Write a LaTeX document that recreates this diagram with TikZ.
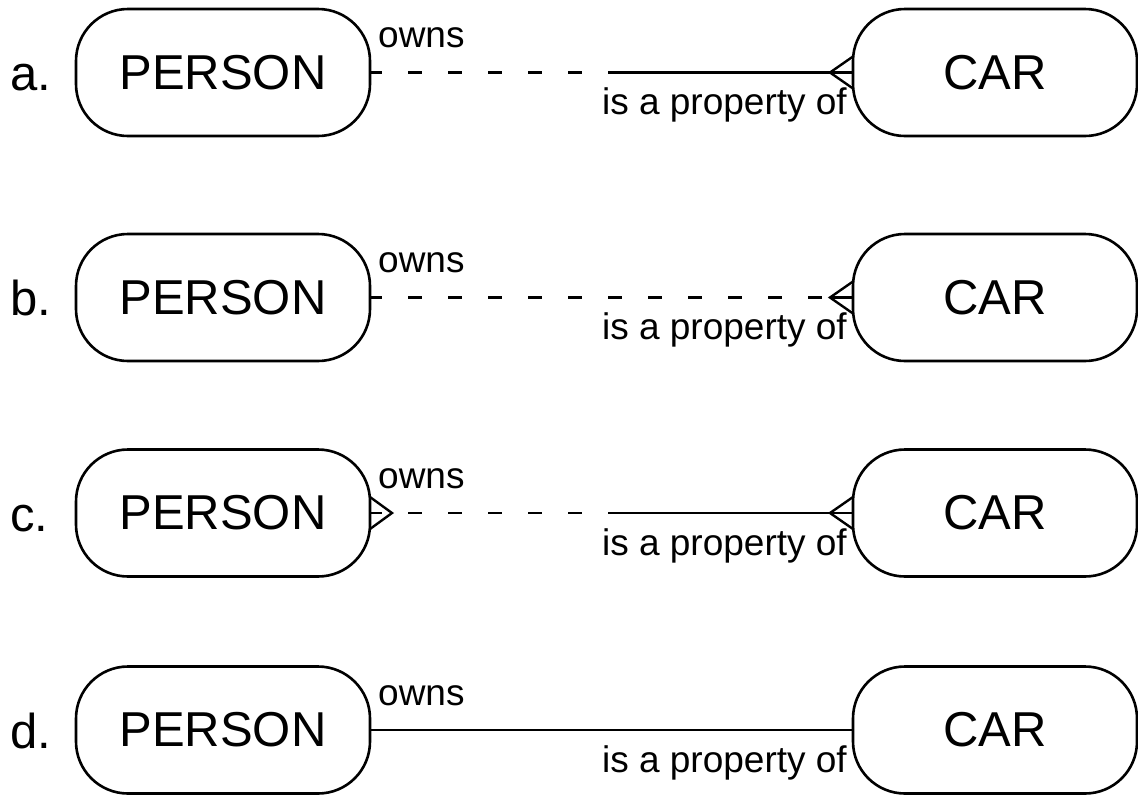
\documentclass[tikz,border=0pt]{standalone}
\usepackage{fontspec}
\setmainfont{Liberation Sans}
\begin{document}
\begin{tikzpicture}[x=1pt,y=-1pt,
  entity/.style={draw,line width=2.6pt,rounded corners=52pt,outer sep=0pt,inner sep=0pt,
     minimum height=127pt,font=\fontsize{49}{55}\selectfont},
  rowlabel/.style={anchor=base west,inner sep=0pt,font=\fontsize{49}{55}\selectfont},
  rel/.style={inner sep=0pt,font=\fontsize{37}{42}\selectfont},
  conn/.style={line width=2.4pt},
  dashedconn/.style={line width=2.4pt,dash pattern=on 14pt off 26pt,dash phase=2pt},
  crow/.style={line width=2.4pt,line join=miter}]
\useasboundingbox (0,0) rectangle (1138,796);
\foreach \r/\c/\l in {1/72.5/a,2/297.5/b,3/513/c,4/730/d}{
  \node[entity,minimum width=294pt] (p\r) at (223,\c) {PERSON};
  \node[entity,minimum width=284pt] (c\r) at (995,\c) {CAR};
  \node[rowlabel] (l\r) at (10,\c+18) {\l.};
  \node[rel,anchor=base west] (o\r) at (378,\c-25) {owns};
  \node[rel,anchor=base east] (i\r) at (847,\c+42) {is a property of};
  \coordinate (m\r) at (611,\c);
}
% a
\draw[dashedconn] (p1.east) -- (m1);
\draw[conn] (m1) -- (c1.west);
\coordinate (t1) at ([xshift=-23pt]c1.west);
\draw[crow] ([yshift=-16pt]c1.west) -- (t1) -- ([yshift=16pt]c1.west);
% b
\draw[dashedconn] (p2.east) -- (c2.west);
\coordinate (t2) at ([xshift=-23pt]c2.west);
\draw[crow] ([yshift=-16pt]c2.west) -- (t2) -- ([yshift=16pt]c2.west);
\draw[conn] (t2) -- (c2.west);
% c
\draw[dashedconn] (p3.east) -- (m3);
\draw[conn] (m3) -- (c3.west);
\coordinate (t3) at ([xshift=-23pt]c3.west);
\draw[crow] ([yshift=-16pt]c3.west) -- (t3) -- ([yshift=16pt]c3.west);
\coordinate (s3) at ([xshift=22pt]p3.east);
\draw[crow] ([yshift=-16pt]p3.east) -- (s3) -- ([yshift=16pt]p3.east);
\draw[conn] (p3.east) -- ([xshift=12pt]p3.east);
% d
\draw[conn] (p4.east) -- (m4) -- (c4.west);
\end{tikzpicture}
\end{document}
